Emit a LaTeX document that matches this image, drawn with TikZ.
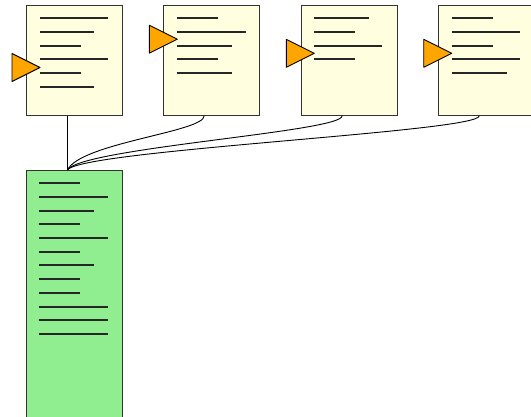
\documentclass[tikz,border=0pt]{standalone}
\usepackage{xcolor}
\usepackage{tikz}
\definecolor{paper}{HTML}{FFFFE0}
\definecolor{mergefill}{HTML}{90EE90}
\definecolor{flagfill}{HTML}{FFA500}

\begin{document}
\begin{tikzpicture}[x=1pt, y=-1pt, % pixel units, y pointing down
          doc/.style={draw=black!80, fill=paper, line width=0.9pt, minimum width=96pt, minimum height=110pt, inner sep=0pt, anchor=north west},
          merged/.style={draw=black!80, fill=mergefill, line width=0.9pt, minimum width=96.6pt, minimum height=247pt, inner sep=0pt, anchor=north west},
          textline/.style={black!85, line width=1.5pt},
          flag/.style={draw=black, fill=flagfill, line width=0.9pt, line join=round},
          link/.style={draw=black, line width=0.9pt}
        ]
        \clip (0,0) rectangle (531,417);

        % Documents
        \node[doc] (doc1) at (26,5) {};
        \node[doc] (doc2) at (162.7,5) {};
        \node[doc] (doc3) at (300.7,5) {};
        \node[doc] (doc4) at (437.7,5) {};
        % Merged document
        \node[merged] (list) at (25.7,170) {};

        % Connectors
        \coordinate (join) at ([xshift=-7pt]list.north);
        \draw[link] ([xshift=-7pt]doc1.south) -- (join);
        \draw[link] ([xshift=-7pt]doc2.south) .. controls +(0,16) and +(13,-27) .. (join);
        \draw[link] ([xshift=-7pt]doc3.south) .. controls +(0,16) and +(13,-22) .. (join);
        \draw[link] ([xshift=-7pt]doc4.south) .. controls +(0,16) and +(13,-20) .. (join);

        % Text lines (snapped to whole pixels)
        \foreach \len [count=\i] in {68,54,41,68,41,54}
          \draw[textline] ([xshift=14pt]doc1.north west) ++(0,{round(13.3+13.7*(\i-1))}) -- ++(\len,0);
        \foreach \len [count=\i] in {41,69,55,41,55}
          \draw[textline] ([xshift=14pt]doc2.north west) ++(0,{round(13.3+13.7*(\i-1))}) -- ++(\len,0);
        \foreach \len [count=\i] in {55,41,68,41}
          \draw[textline] ([xshift=13.6pt]doc3.north west) ++(0,{round(13.3+13.7*(\i-1))}) -- ++(\len,0);
        \foreach \len [count=\i] in {41,68,41,68,55}
          \draw[textline] ([xshift=14pt]doc4.north west) ++(0,{round(13.3+13.7*(\i-1))}) -- ++(\len,0);
        \foreach \len [count=\i] in {41,69,55,41,69,41,55,41,41,69,69,69}
          \draw[textline] ([xshift=13.6pt]list.north west) ++(0,{round(13.3+13.7*(\i-1))}) -- ++(\len,0);

        % Flags
        \draw[flag] ([xshift=14pt]doc1.north west) ++(0,62.5) -- ++(-28,-14) -- ++(0,28) -- cycle;
        \draw[flag] ([xshift=14.6pt]doc2.north west) ++(0,34.2) -- ++(-28,-14) -- ++(0,28) -- cycle;
        \draw[flag] ([xshift=13.6pt]doc3.north west) ++(0,48.3) -- ++(-28,-14) -- ++(0,28) -- cycle;
        \draw[flag] ([xshift=14pt]doc4.north west) ++(0,48.3) -- ++(-28,-14) -- ++(0,28) -- cycle;

        \end{tikzpicture}
\end{document}
